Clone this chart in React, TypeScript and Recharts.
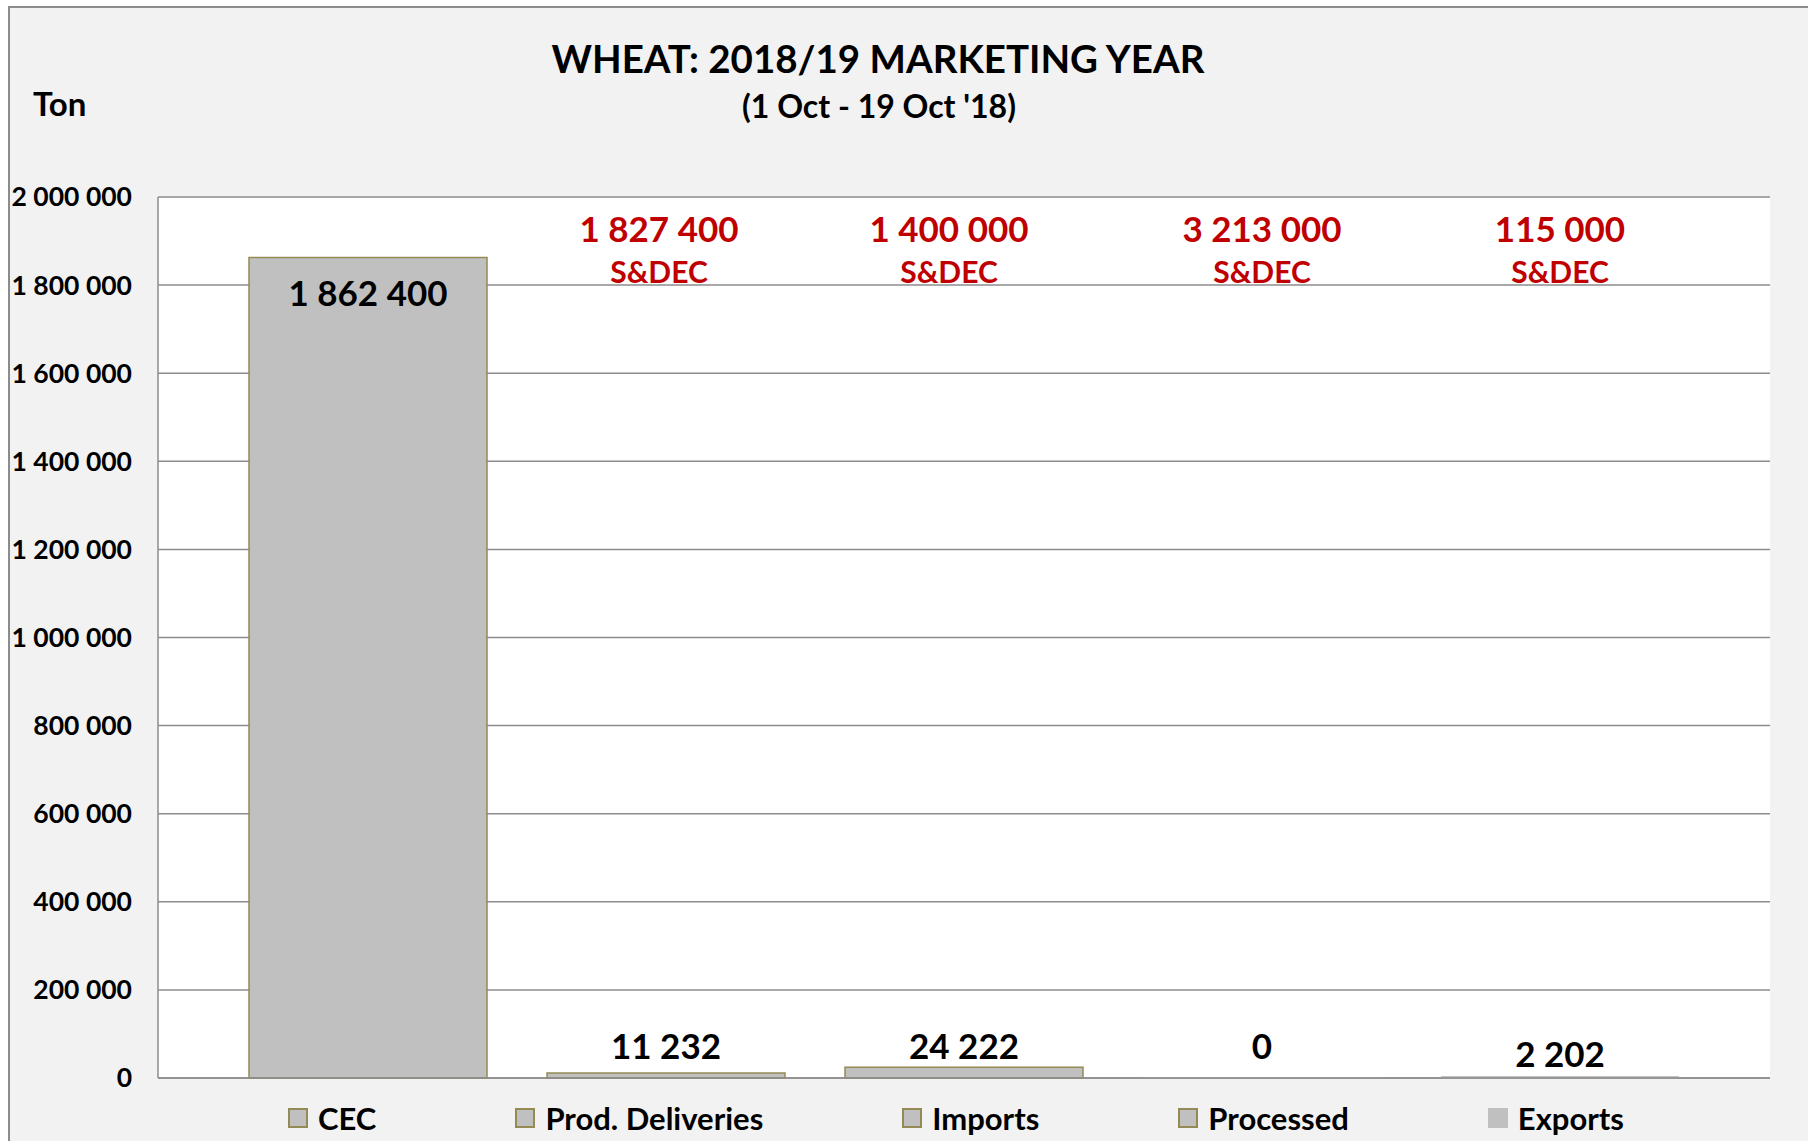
import React from "react"
import { BarChart, Bar, XAxis, YAxis, CartesianGrid, Legend, LabelList } from "recharts"

// series names, values (ton) and the S&DEC estimates shown in red above them
const categories = ["CEC", "Prod. Deliveries", "Imports", "Processed", "Exports"]
const values = [1862400, 11232, 24222, 0, 2202]
const sdecValues: (number | null)[] = [null, 1827400, 1400000, 3213000, 115000]
const yTicks = [0, 200000, 400000, 600000, 800000, 1000000, 1200000, 1400000, 1600000, 1800000, 2000000]

const FONT = "Lato, 'Open Sans', sans-serif"
const PLOT_TOP = 197
const OLIVE = "#948a54"

// per-series look (Excel style)
const seriesStyle = [
  { stroke: OLIVE, legendBorder: true, labelPos: "insideTop", labelOffset: 24, sdecDx: 0, minSize: 0 },
  { stroke: OLIVE, legendBorder: true, labelPos: "top", labelOffset: 14, sdecDx: -7, minSize: 0 },
  { stroke: OLIVE, legendBorder: true, labelPos: "top", labelOffset: 8, sdecDx: -15, minSize: 0 },
  { stroke: "none", legendBorder: true, labelPos: "top", labelOffset: 18, sdecDx: 0, minSize: 1 },
  { stroke: "none", legendBorder: false, labelPos: "top", labelOffset: 9, sdecDx: 0, minSize: 2 },
]

const row: Record<string, number | string | null> = { name: "2018/19" }
categories.forEach((_, i) => {
  row[`s${i}`] = values[i]
  row[`r${i}`] = sdecValues[i]
})
const chartData = [row]

function fmt(n: number | string) {
  return String(n).replace(/\B(?=(\d{3})+(?!\d))/g, " ")
}

function SdecLabel(props: any) {
  const { x, width, value, dx } = props
  if (value === null || value === undefined) return null
  const cx = Number(x) + Number(width) / 2 + (dx || 0)
  return (
    <g>
      <text x={cx} y={PLOT_TOP + 45} textAnchor="middle" fill="#c00000" fontFamily={FONT} fontWeight="bold" fontSize={35}>
        {fmt(value)}
      </text>
      <text x={cx} y={PLOT_TOP + 86} textAnchor="middle" fill="#c00000" fontFamily={FONT} fontWeight="bold" fontSize={30}>
        S&amp;DEC
      </text>
    </g>
  )
}

function LegendBox() {
  return (
    <div style={{ height: 62, display: "flex", justifyContent: "center", alignItems: "center", paddingTop: 16, paddingLeft: 142, boxSizing: "border-box", gap: 139 }}>
      {categories.map((c, i) => {
        const st = seriesStyle[i]
        return (
          <div key={c} style={{ display: "flex", alignItems: "center" }}>
            <div
              style={{
                width: 20,
                height: 20,
                boxSizing: "border-box",
                background: "#c0c0c0",
                border: st.legendBorder ? `2px solid ${OLIVE}` : "none",
                marginRight: 10,
              }}
            />
            <span style={{ fontFamily: FONT, fontWeight: "bold", fontSize: 31, color: "#000", lineHeight: 1 }}>{c}</span>
          </div>
        )
      })}
    </div>
  )
}

export default function App() {
  return (
    <div style={{ position: "absolute", left: 0, top: 0, width: 1808, height: 1141, background: "#fff", overflow: "hidden", fontFamily: FONT }}>
      <div style={{ position: "absolute", left: 8, top: 6, width: 1900, height: 1300, background: "#f2f2f2", border: "2px solid #8c8c8c" }} />
      <div style={{ position: "absolute", left: 0, top: 0 }}>
        <BarChart
          width={1808}
          height={1141}
          data={chartData}
          margin={{ top: PLOT_TOP, right: 38, left: 0, bottom: 0 }}
          barCategoryGap={91}
          barGap={60}
        >
          <CartesianGrid vertical={false} stroke="#8c8c8c" strokeWidth={1.5} fill="#ffffff" />
          <XAxis dataKey="name" tick={false} tickLine={false} height={1} axisLine={{ stroke: "#8c8c8c", strokeWidth: 1.5 }} />
          <YAxis
            width={158}
            domain={[0, 2000000]}
            ticks={yTicks}
            interval={0}
            tickLine={false}
            tickSize={0}
            tickMargin={26}
            axisLine={{ stroke: "#8c8c8c", strokeWidth: 1.5 }}
            tickFormatter={(v: number) => fmt(v)}
            tick={{ fill: "#000", fontFamily: FONT, fontWeight: "bold", fontSize: 26.5 }}
          />
          <Legend verticalAlign="bottom" content={<LegendBox />} />
          {categories.map((c, i) => (
            <Bar
              key={c}
              dataKey={`s${i}`}
              name={c}
              fill="#c0c0c0"
              stroke={seriesStyle[i].stroke}
              strokeWidth={1.5}
              minPointSize={seriesStyle[i].minSize}
              isAnimationActive={false}
            >
              <LabelList
                dataKey={`s${i}`}
                position={seriesStyle[i].labelPos as any}
                offset={seriesStyle[i].labelOffset}
                formatter={(v: any) => fmt(v)}
                fill="#000"
                fontFamily={FONT}
                fontWeight="bold"
                fontSize={35}
              />
              <LabelList dataKey={`r${i}`} content={(p: any) => <SdecLabel {...p} dx={seriesStyle[i].sdecDx} />} />
            </Bar>
          ))}
        </BarChart>
      </div>
      <div style={{ position: "absolute", left: 0, width: 1756, top: 39, textAlign: "center", fontWeight: "bold", fontSize: 38.5, lineHeight: 1, color: "#000" }}>
        WHEAT: 2018/19 MARKETING YEAR
      </div>
      <div style={{ position: "absolute", left: 0, width: 1758, top: 90, textAlign: "center", fontWeight: "bold", fontSize: 32, lineHeight: 1, color: "#000" }}>
        (1 Oct - 19 Oct '18)
      </div>
      <div style={{ position: "absolute", left: 33, top: 87, fontWeight: "bold", fontSize: 33, lineHeight: 1, color: "#000" }}>Ton</div>
    </div>
  )
}
